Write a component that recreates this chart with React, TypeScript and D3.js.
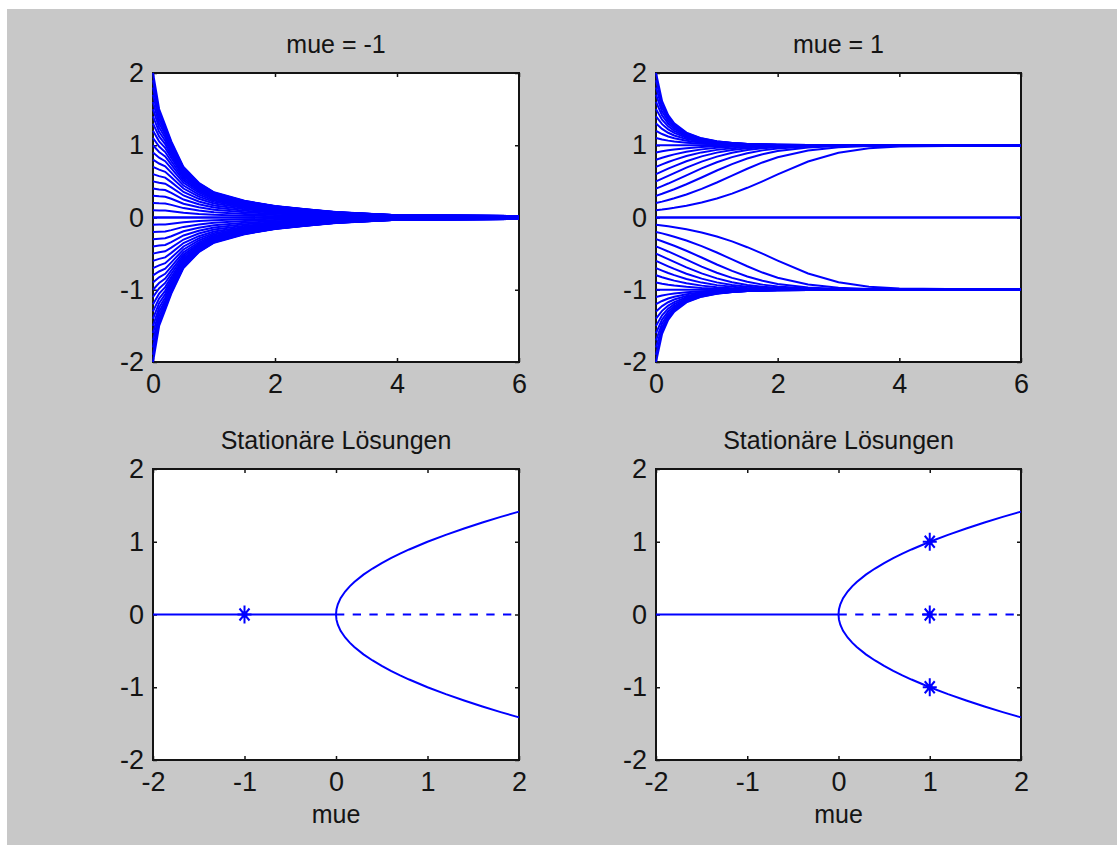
import React, { useEffect, useRef } from 'react';
import * as d3 from 'd3';

const timeMinus = [0, 0.1, 0.2, 0.3, 0.5, 0.75, 1, 1.5, 2, 2.5, 3, 4, 6];
// start values 0, 0.1 ... 2.0 (the lower half of the plot is the mirror image)
const pathsMinus = [
  [0, 0, 0, 0, 0, 0, 0, 0, 0, 0, 0, 0, 0],
  [0.1, 0.098, 0.098, 0.088, 0.066, 0.048, 0.037, 0.025, 0.018, 0.012, 0.008, 0.004, 0.003],
  [0.2, 0.196, 0.194, 0.175, 0.13, 0.096, 0.072, 0.05, 0.035, 0.025, 0.017, 0.008, 0.005],
  [0.3, 0.293, 0.288, 0.259, 0.191, 0.141, 0.106, 0.072, 0.051, 0.037, 0.023, 0.01, 0.007],
  [0.4, 0.389, 0.38, 0.34, 0.249, 0.183, 0.138, 0.094, 0.065, 0.048, 0.032, 0.013, 0.009],
  [0.5, 0.482, 0.468, 0.418, 0.305, 0.222, 0.167, 0.113, 0.079, 0.057, 0.037, 0.015, 0.011],
  [0.6, 0.573, 0.552, 0.49, 0.354, 0.259, 0.193, 0.131, 0.091, 0.065, 0.043, 0.017, 0.012],
  [0.7, 0.662, 0.633, 0.558, 0.401, 0.289, 0.216, 0.146, 0.101, 0.073, 0.048, 0.02, 0.014],
  [0.8, 0.747, 0.708, 0.621, 0.442, 0.318, 0.236, 0.159, 0.111, 0.079, 0.052, 0.021, 0.015],
  [0.9, 0.828, 0.779, 0.679, 0.48, 0.343, 0.254, 0.171, 0.118, 0.085, 0.055, 0.023, 0.016],
  [1.0, 0.907, 0.845, 0.732, 0.513, 0.365, 0.269, 0.181, 0.125, 0.09, 0.058, 0.025, 0.017],
  [1.1, 0.982, 0.906, 0.779, 0.542, 0.384, 0.283, 0.189, 0.131, 0.095, 0.062, 0.027, 0.019],
  [1.2, 1.054, 0.963, 0.823, 0.569, 0.402, 0.295, 0.197, 0.137, 0.098, 0.063, 0.027, 0.019],
  [1.3, 1.122, 1.015, 0.863, 0.592, 0.416, 0.305, 0.203, 0.14, 0.101, 0.067, 0.028, 0.02],
  [1.4, 1.186, 1.063, 0.9, 0.613, 0.428, 0.314, 0.209, 0.144, 0.104, 0.068, 0.029, 0.02],
  [1.5, 1.247, 1.108, 0.932, 0.632, 0.441, 0.322, 0.214, 0.147, 0.107, 0.07, 0.029, 0.02],
  [1.6, 1.304, 1.148, 0.96, 0.648, 0.45, 0.328, 0.218, 0.151, 0.109, 0.07, 0.03, 0.021],
  [1.7, 1.358, 1.185, 0.988, 0.662, 0.459, 0.334, 0.221, 0.152, 0.11, 0.072, 0.03, 0.021],
  [1.8, 1.409, 1.22, 1.012, 0.675, 0.467, 0.34, 0.225, 0.155, 0.112, 0.073, 0.03, 0.021],
  [1.9, 1.456, 1.251, 1.033, 0.687, 0.474, 0.344, 0.227, 0.157, 0.113, 0.073, 0.03, 0.021],
  [2.0, 1.502, 1.279, 1.053, 0.698, 0.48, 0.349, 0.231, 0.159, 0.115, 0.075, 0.03, 0.021],
];

// trajectories for mue = 1
const timePlus = [0, 0.1, 0.2, 0.3, 0.5, 0.75, 1, 1.25, 1.5, 1.75, 2, 2.5, 3, 3.5, 4, 6];
const pathsPlus = [
  [0, 0, 0, 0, 0, 0, 0, 0, 0, 0, 0, 0, 0, 0, 0, 0],
  [0.1, 0.11, 0.122, 0.134, 0.164, 0.208, 0.264, 0.331, 0.411, 0.501, 0.596, 0.775, 0.896, 0.958, 0.984, 1.0],
  [0.2, 0.22, 0.242, 0.266, 0.319, 0.397, 0.485, 0.58, 0.675, 0.762, 0.834, 0.928, 0.972, 0.989, 0.996, 1.0],
  [0.3, 0.328, 0.359, 0.391, 0.46, 0.554, 0.65, 0.739, 0.816, 0.875, 0.919, 0.968, 0.988, 0.996, 0.998, 1.0],
  [0.4, 0.435, 0.47, 0.508, 0.584, 0.679, 0.765, 0.836, 0.89, 0.929, 0.955, 0.983, 0.994, 0.998, 0.999, 1.0],
  [0.5, 0.538, 0.576, 0.615, 0.69, 0.774, 0.843, 0.896, 0.933, 0.958, 0.974, 0.99, 0.996, 0.999, 1.0, 1.0],
  [0.6, 0.638, 0.676, 0.712, 0.778, 0.846, 0.898, 0.934, 0.959, 0.974, 0.984, 0.994, 0.998, 0.999, 1.0, 1.0],
  [0.7, 0.735, 0.768, 0.798, 0.85, 0.901, 0.936, 0.96, 0.975, 0.985, 0.991, 0.997, 0.999, 1.0, 1.0, 1.0],
  [0.8, 0.828, 0.852, 0.874, 0.91, 0.943, 0.964, 0.978, 0.986, 0.992, 0.995, 0.998, 1.0, 1.0, 1.0, 1.0],
  [0.9, 0.916, 0.93, 0.941, 0.959, 0.975, 0.985, 0.991, 0.994, 0.997, 0.998, 0.999, 1.0, 1.0, 1.0, 1.0],
  [1.0, 1.0, 1.0, 1.0, 1.0, 1.0, 1.0, 1.0, 1.0, 1.0, 1.0, 1.0, 1.0, 1.0, 1.0, 1.0],
  [1.1, 1.08, 1.064, 1.051, 1.034, 1.02, 1.012, 1.007, 1.004, 1.002, 1.001, 1.0, 1.0, 1.0, 1.0, 1.0],
  [1.2, 1.155, 1.121, 1.096, 1.061, 1.036, 1.021, 1.013, 1.008, 1.004, 1.003, 1.001, 1.0, 1.0, 1.0, 1.0],
  [1.3, 1.226, 1.173, 1.135, 1.085, 1.049, 1.029, 1.017, 1.01, 1.006, 1.004, 1.001, 1.0, 1.0, 1.0, 1.0],
  [1.4, 1.292, 1.22, 1.17, 1.104, 1.06, 1.035, 1.021, 1.012, 1.007, 1.004, 1.002, 1.0, 1.0, 1.0, 1.0],
  [1.5, 1.354, 1.262, 1.2, 1.121, 1.068, 1.04, 1.023, 1.014, 1.008, 1.005, 1.002, 1.0, 1.0, 1.0, 1.0],
  [1.6, 1.413, 1.3, 1.226, 1.135, 1.076, 1.044, 1.026, 1.015, 1.009, 1.005, 1.002, 1.0, 1.0, 1.0, 1.0],
  [1.7, 1.467, 1.334, 1.249, 1.148, 1.082, 1.047, 1.028, 1.016, 1.01, 1.006, 1.002, 1.0, 1.0, 1.0, 1.0],
  [1.8, 1.518, 1.365, 1.269, 1.158, 1.087, 1.05, 1.03, 1.017, 1.01, 1.006, 1.002, 1.0, 1.0, 1.0, 1.0],
  [1.9, 1.566, 1.393, 1.288, 1.167, 1.092, 1.053, 1.031, 1.018, 1.011, 1.006, 1.002, 1.0, 1.0, 1.0, 1.0],
  [2.0, 1.61, 1.418, 1.304, 1.175, 1.096, 1.055, 1.032, 1.019, 1.011, 1.006, 1.002, 1.0, 1.0, 1.0, 1.0],
];

// bifurcation diagram
const muStable = [-2, 0];
const muUnstable = [0, 2];
const branchMu = [0, 0.005, 0.02, 0.05, 0.1, 0.15, 0.2, 0.3, 0.4, 0.5, 0.6, 0.7, 0.8, 1.0, 1.2, 1.4, 1.6, 1.8, 2.0];
const branchUpper = [0, 0.071, 0.141, 0.224, 0.316, 0.387, 0.447, 0.548, 0.632, 0.707, 0.775, 0.837, 0.894, 1.0, 1.095, 1.183, 1.265, 1.342, 1.414];
const branchLower = [0, -0.071, -0.141, -0.224, -0.316, -0.387, -0.447, -0.548, -0.632, -0.707, -0.775, -0.837, -0.894, -1.0, -1.095, -1.183, -1.265, -1.342, -1.414];
const starsLeft = [[-1, 0]];
const starsRight = [[1, 1], [1, 0], [1, -1]];

const timeTicks = [0, 2, 4, 6];
const muTicks = [-2, -1, 0, 1, 2];
const yTicks = [-2, -1, 0, 1, 2];
const titles = ['mue = -1', 'mue = 1', 'Stationäre Lösungen', 'Stationäre Lösungen'];
const xLabel = 'mue';

const W = 1117;
const H = 845;
const BLUE = '#0000ff';
const INK = '#141414';
const FONT = '"Liberation Sans", Arial, sans-serif';

const boxes = [
  { left: 153, top: 73, width: 366, height: 289 },
  { left: 656, top: 73, width: 365, height: 289 },
  { left: 153, top: 469, width: 366, height: 291 },
  { left: 656, top: 469, width: 365, height: 291 },
];

export default function App() {
  const svgRef = useRef<SVGSVGElement>(null);

  useEffect(() => {
    const svg = d3.select(svgRef.current);
    svg.selectAll('*').remove();

    svg.append('rect').attr('width', W).attr('height', H).attr('fill', '#ffffff');
    svg.append('rect').attr('x', 7).attr('y', 9).attr('width', W - 7).attr('height', H - 9).attr('fill', '#c8c8c8');

    const label = (d: d3.NumberValue) => String(d);

    const frame = (i: number, xDomain: [number, number], xTicks: number[], withLabel: boolean) => {
      const b = boxes[i];
      const x = d3.scaleLinear().domain(xDomain).range([b.left, b.left + b.width]);
      const y = d3.scaleLinear().domain([-2, 2]).range([b.top + b.height, b.top]);
      const g = svg.append('g');

      g.append('rect')
        .attr('x', b.left).attr('y', b.top)
        .attr('width', b.width).attr('height', b.height)
        .attr('fill', '#ffffff').attr('stroke', INK).attr('stroke-width', 2);

      const styleAxis = (a: d3.Selection<SVGGElement, unknown, null, undefined>) => {
        a.select('.domain').remove();
        a.selectAll('line').attr('stroke', INK).attr('stroke-width', 1.5);
        a.selectAll('text').attr('fill', INK);
        a.attr('font-family', FONT).attr('font-size', 27);
      };

      g.append('g').attr('transform', `translate(0,${b.top + b.height})`)
        .call(d3.axisBottom(x).tickValues(xTicks).tickFormat(label).tickSizeInner(-4).tickSizeOuter(0).tickPadding(12))
        .call(styleAxis);
      g.append('g').attr('transform', `translate(0,${b.top})`)
        .call(d3.axisTop(x).tickValues(xTicks).tickFormat(() => '').tickSizeInner(-4).tickSizeOuter(0))
        .call(styleAxis);
      g.append('g').attr('transform', `translate(${b.left},0)`)
        .call(d3.axisLeft(y).tickValues(yTicks).tickFormat(label).tickSizeInner(-4).tickSizeOuter(0).tickPadding(9))
        .call(styleAxis);
      g.append('g').attr('transform', `translate(${b.left + b.width},0)`)
        .call(d3.axisRight(y).tickValues(yTicks).tickFormat(() => '').tickSizeInner(-4).tickSizeOuter(0))
        .call(styleAxis);

      g.append('text')
        .attr('x', b.left + b.width / 2).attr('y', b.top - 20)
        .attr('text-anchor', 'middle').attr('font-family', FONT).attr('font-size', 25).attr('fill', INK)
        .text(titles[i]);

      if (withLabel) {
        g.append('text')
          .attr('x', b.left + b.width / 2).attr('y', b.top + b.height + 63)
          .attr('text-anchor', 'middle').attr('font-family', FONT).attr('font-size', 25).attr('fill', INK)
          .text(xLabel);
      }

      const clipId = `clip${i}`;
      g.append('clipPath').attr('id', clipId)
        .append('rect').attr('x', b.left - 1).attr('y', b.top - 1).attr('width', b.width + 2).attr('height', b.height + 2);
      const plot = g.append('g').attr('clip-path', `url(#${clipId})`);
      return { x, y, plot };
    };

    const drawLine = (plot: any, x: any, y: any, pts: [number, number][], dash?: string) => {
      const line = d3.line<[number, number]>().x(d => x(d[0])).y(d => y(d[1]));
      plot.append('path').attr('d', line(pts)).attr('fill', 'none')
        .attr('stroke', BLUE).attr('stroke-width', 2)
        .attr('stroke-dasharray', dash || null);
    };

    const drawTrajectories = (i: number, times: number[], paths: number[][]) => {
      const { x, y, plot } = frame(i, [0, 6], timeTicks, false);
      paths.forEach(p => {
        drawLine(plot, x, y, times.map((t, k) => [t, p[k]] as [number, number]));
        drawLine(plot, x, y, times.map((t, k) => [t, -p[k]] as [number, number]));
      });
    };

    drawTrajectories(0, timeMinus, pathsMinus);
    drawTrajectories(1, timePlus, pathsPlus);

    const drawBifurcation = (i: number, stars: number[][]) => {
      const { x, y, plot } = frame(i, [-2, 2], muTicks, true);
      drawLine(plot, x, y, muStable.map(m => [m, 0] as [number, number]));
      drawLine(plot, x, y, muUnstable.map(m => [m, 0] as [number, number]), '8.3 8.4');
      drawLine(plot, x, y, branchMu.map((m, k) => [m, branchUpper[k]] as [number, number]));
      drawLine(plot, x, y, branchMu.map((m, k) => [m, branchLower[k]] as [number, number]));
      stars.forEach(([m, v]) => {
        const cx = x(m);
        const cy = y(v);
        const p = d3.path();
        p.moveTo(cx - 7, cy); p.lineTo(cx + 7, cy);
        p.moveTo(cx, cy - 9); p.lineTo(cx, cy + 9);
        p.moveTo(cx - 5, cy - 6); p.lineTo(cx + 5, cy + 6);
        p.moveTo(cx - 5, cy + 6); p.lineTo(cx + 5, cy - 6);
        plot.append('path').attr('d', p.toString()).attr('fill', 'none')
          .attr('stroke', BLUE).attr('stroke-width', 2);
        plot.append('circle').attr('cx', cx).attr('cy', cy).attr('r', 3).attr('fill', BLUE);
      });
    };

    drawBifurcation(2, starsLeft);
    drawBifurcation(3, starsRight);
  }, []);

  return (
    <svg
      ref={svgRef}
      width={W}
      height={H}
      style={{ position: 'absolute', left: 0, top: 0, display: 'block' }}
    />
  );
}
